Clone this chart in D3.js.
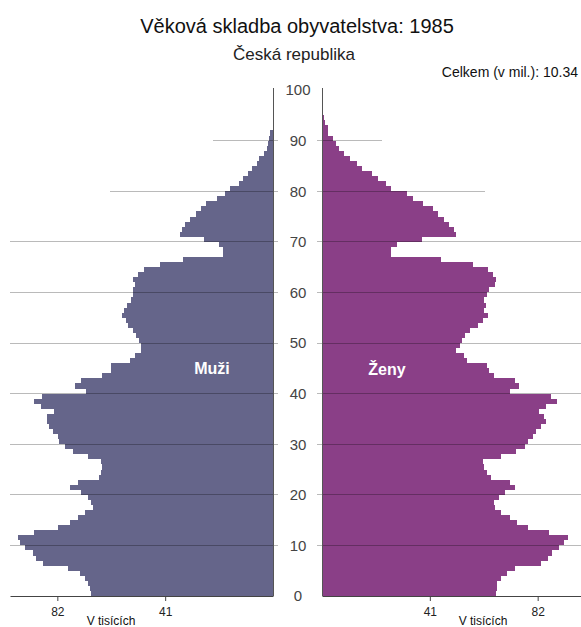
<!DOCTYPE html>
<html>
<head>
<meta charset="utf-8">
<script src="https://cdn.jsdelivr.net/npm/d3@7"></script>
<style>
  body { margin: 0; background: #fff; }
  svg { display: block; font-family: Arial, "Liberation Sans", sans-serif; }
  .axis path, .axis line { stroke: #444; }
  .axis text { fill: #222; font-size: 12px; }
</style>
</head>
<body>
<svg id="chart"></svg>
<script>
// Population by single year of age, thousands (1985)
const ages = d3.range(0, 95);
const men = [
  69.1, 69.6, 70.5, 71.4, 73.3, 77.9, 87.3, 90.2, 91.1, 94.3,
  96.3, 96.8, 90.8, 81.9, 77.2, 74.3, 71.4, 68.3, 69.2, 70.5,
  73.0, 77.1, 74.3, 66.3, 65.4, 65.1, 65.4, 70.5, 76.0, 79.1,
  81.3, 81.6, 83.6, 85.1, 86.0, 85.8, 83.2, 88.3, 90.8, 87.9,
  71.1, 75.2, 73.0, 65.0, 61.6, 61.6, 54.2, 52.3, 50.1, 50.1,
  50.8, 52.0, 53.3, 55.2, 55.8, 57.4, 56.5, 55.5, 53.9, 53.3,
  53.3, 52.3, 53.3, 51.4, 49.2, 43.1, 34.2, 19.2, 19.2, 20.5,
  26.2, 35.5, 34.5, 33.6, 31.4, 29.4, 27.2, 25.3, 21.3, 18.3,
  16.4, 13.1, 11.3, 9.4, 8.1, 6.2, 5.2, 3.3, 2.4, 2.0,
  1.5, 1.0, 0, 0, 0
];
const women = [
  66.3, 66.4, 66.4, 68.2, 70.2, 73.4, 83.3, 85.8, 87.4, 90.3,
  92.2, 93.5, 86.4, 78.4, 74.3, 71.5, 68.2, 65.6, 65.4, 67.3,
  69.5, 73.4, 71.5, 64.1, 62.6, 61.5, 61.3, 68.2, 73.7, 77.1,
  78.4, 80.3, 81.3, 83.3, 85.2, 84.3, 82.6, 85.2, 89.3, 87.1,
  71.5, 75.0, 73.4, 65.4, 63.4, 62.8, 55.2, 54.1, 51.1, 52.3,
  53.2, 54.3, 56.4, 59.4, 61.3, 63.2, 61.5, 62.2, 61.5, 62.6,
  63.4, 65.6, 66.0, 65.1, 63.2, 57.3, 45.3, 26.4, 26.4, 28.4,
  38.2, 51.0, 50.0, 48.1, 46.2, 44.1, 42.1, 38.3, 34.5, 32.2,
  26.2, 24.3, 21.3, 19.2, 15.3, 13.4, 10.5, 8.3, 6.4, 5.2,
  4.2, 2.3, 2.3, 1.3, 0.8
];
const yTicks = d3.range(0, 101, 10);
const xTicks = [41, 82];
// how far each horizontal gridline reaches (thousands)
const gridAges = [10, 20, 30, 40, 50, 60, 70, 80, 90];
const gridReach = [100, 100, 100, 100, 100, 100, 100, 62, 23];

const title = 'Věková skladba obyvatelstva: 1985';
const subtitle = 'Česká republika';
const total = 'Celkem (v mil.): 10.34';

const width = 581, height = 627;
const colMen = '#65658a', colWomen = '#8a3f87';

const svg = d3.select('#chart')
  .attr('width', width)
  .attr('height', height);

// scales
const y = d3.scaleLinear().domain([0, 100]).range([596, 90]);
const xL = d3.scaleLinear().domain([0, 100]).range([273, 10]);
const xR = d3.scaleLinear().domain([0, 100]).range([322, 585]);

// titles
svg.append('text')
  .attr('x', 297).attr('y', 33)
  .attr('text-anchor', 'middle')
  .attr('font-size', 20).attr('fill', '#111')
  .text(title);
svg.append('text')
  .attr('x', 294).attr('y', 60)
  .attr('text-anchor', 'middle')
  .attr('font-size', 17).attr('fill', '#222')
  .text(subtitle);
svg.append('text')
  .attr('x', 578).attr('y', 77)
  .attr('text-anchor', 'end')
  .attr('font-size', 14).attr('fill', '#111')
  .text(total);

// bars
svg.append('g').selectAll('rect')
  .data(ages.filter(a => men[a] > 0))
  .join('rect')
  .attr('x', a => xL(men[a]))
  .attr('width', a => xL(0) - xL(men[a]))
  .attr('y', a => y(a + 1))
  .attr('height', a => y(a) - y(a + 1))
  .attr('fill', colMen)
  .attr('shape-rendering', 'crispEdges');

svg.append('g').selectAll('rect')
  .data(ages.filter(a => women[a] > 0))
  .join('rect')
  .attr('x', xR(0))
  .attr('width', a => xR(women[a]) - xR(0))
  .attr('y', a => y(a + 1))
  .attr('height', a => y(a) - y(a + 1))
  .attr('fill', colWomen)
  .attr('shape-rendering', 'crispEdges');

// gridlines, drawn over bars
const grid = svg.append('g')
  .attr('stroke', '#000')
  .attr('stroke-opacity', 0.27)
  .attr('shape-rendering', 'crispEdges');
grid.selectAll('.gl')
  .data(gridAges)
  .join('line')
  .attr('class', 'gl')
  .attr('x1', xL(0) + 5)
  .attr('x2', (d, i) => xL(gridReach[i]))
  .attr('y1', d => y(d)).attr('y2', d => y(d));
grid.selectAll('.gr')
  .data(gridAges)
  .join('line')
  .attr('class', 'gr')
  .attr('x1', xR(0) - 5)
  .attr('x2', (d, i) => xR(gridReach[i]))
  .attr('y1', d => y(d)).attr('y2', d => y(d));

// vertical axes
[xL(0), xR(0)].forEach(x => {
  svg.append('line')
    .attr('x1', x).attr('x2', x)
    .attr('y1', y(100) - 2).attr('y2', y(0))
    .attr('stroke', '#555')
    .attr('shape-rendering', 'crispEdges');
});

// age labels
svg.append('g').selectAll('text')
  .data(yTicks)
  .join('text')
  .attr('x', 298)
  .attr('y', d => y(d))
  .attr('dy', '0.36em')
  .attr('text-anchor', 'middle')
  .attr('font-size', 15)
  .attr('fill', '#444')
  .text(d => d);

// bottom axes
svg.append('g')
  .attr('class', 'axis')
  .attr('transform', `translate(0,${y(0)})`)
  .call(d3.axisBottom(xL).tickValues(xTicks).tickSize(5).tickSizeOuter(0).tickPadding(6));
svg.append('g')
  .attr('class', 'axis')
  .attr('transform', `translate(0,${y(0)})`)
  .call(d3.axisBottom(xR).tickValues(xTicks).tickSize(5).tickSizeOuter(0).tickPadding(6));

[111, 483].forEach(x => {
  svg.append('text')
    .attr('x', x).attr('y', 625)
    .attr('text-anchor', 'middle')
    .attr('font-size', 12).attr('fill', '#111')
    .text('V tisících');
});

// series labels
svg.append('text')
  .attr('x', 212).attr('y', 374)
  .attr('text-anchor', 'middle')
  .attr('font-size', 16).attr('font-weight', 'bold')
  .attr('fill', '#fff')
  .text('Muži');
svg.append('text')
  .attr('x', 387).attr('y', 375)
  .attr('text-anchor', 'middle')
  .attr('font-size', 16).attr('font-weight', 'bold')
  .attr('fill', '#fff')
  .text('Ženy');
</script>
</body>
</html>
